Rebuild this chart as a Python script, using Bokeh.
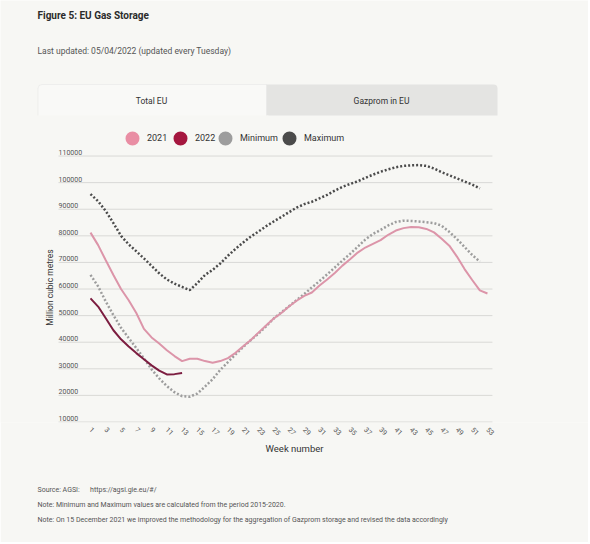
import math
import numpy as np
from bokeh.plotting import figure
from bokeh.models import (Range1d, FixedTicker, Label, BoxAnnotation,
                          Legend, LegendItem, Title)
from bokeh.core.properties import value
from bokeh.embed import file_html
from bokeh.resources import INLINE

BG = "#f7f7f4"
FONT = "Roboto"
W = 588          # canvas width
FH = 422         # frame height (header + chart area)

# ---------------- data ----------------
weeks_2021 = list(range(1, 54))
weeks_2022 = list(range(1, 14))
weeks_minmax = list(range(1, 53))

storage_2021 = [81200, 76500, 70800, 65300, 60000, 55800, 51000, 45000, 41800, 39500,
                37000, 34800, 32900, 33800, 33800, 32900, 32300, 32900, 34000, 36000,
                38500, 40800, 43600, 46300, 48900, 51000, 53400, 55600, 57400, 58700,
                61300, 63600, 66000, 68800, 71200, 73700, 75600, 77000, 78400, 80400,
                82000, 82900, 83300, 83200, 82600, 81300, 78900, 76300, 72200, 67500,
                63400, 59500, 58300]
storage_2022 = [56500, 53400, 49000, 44500, 41100, 38400, 35900, 33600, 31300, 29300,
                27900, 28000, 28400]
minimum = [65300, 61000, 55300, 50200, 45400, 41600, 37800, 33900, 29800, 26400,
           23500, 21200, 19700, 19500, 20700, 23300, 26100, 29600, 32500, 35400,
           38200, 40800, 43200, 46000, 48900, 51200, 53500, 55800, 58100, 60600,
           63000, 65500, 68100, 70700, 73200, 75900, 78600, 80700, 82200, 83900,
           85200, 85700, 85600, 85400, 85100, 84800, 83800, 81500, 78800, 75800,
           72800, 70300]
maximum = [95700, 93000, 89300, 84800, 80000, 76800, 74200, 71500, 68700, 65900,
           63600, 62000, 60800, 59600, 62200, 65300, 67200, 69600, 72500, 75100,
           77500, 79700, 81600, 83600, 85400, 87100, 88900, 90600, 91900, 92800,
           94100, 95400, 97000, 98400, 99500, 100500, 101800, 103000, 104100, 105000,
           105800, 106300, 106500, 106600, 106300, 105300, 103900, 102800, 101600, 100400,
           99300, 97800]

series_names = ["2021", "2022", "Minimum", "Maximum"]
legend_colors = ["#e98ea4", "#a5173f", "#9d9d9d", "#4b4b4b"]

y_ticks = [10000, 20000, 30000, 40000, 50000, 60000, 70000, 80000, 90000, 100000, 110000]
y_tick_labels = ["10000", "20000", "30000", "40000", "50000", "60000", "70000",
                 "80000", "90000", "100000", "110000"]
x_ticks = list(range(1, 54, 2))

# chart area extent in week units (grid lines run across it)
GRID_X0, GRID_X1 = -3.19, 53.65
PX_PER_WEEK = 7.634
UNITS_PER_PX = 376.0

# ---------------- figure ----------------
x_lo = 1 - 90 / PX_PER_WEEK
x_hi = x_lo + W / PX_PER_WEEK
y_lo = 10000 - 0.5 * UNITS_PER_PX
y_hi = y_lo + FH * UNITS_PER_PX

p = figure(frame_width=W, frame_height=FH,
           min_border_left=0, min_border_right=0, min_border_top=0, min_border_bottom=120,
           x_range=Range1d(x_lo, x_hi), y_range=Range1d(y_lo, y_hi),
           y_axis_location=None,
           output_backend="svg", toolbar_location=None,
           background_fill_color=BG, border_fill_color=BG, outline_line_color=None)
p.grid.visible = False

# horizontal grid lines across the chart area
p.segment(x0=[GRID_X0] * len(y_ticks), x1=[GRID_X1] * len(y_ticks), y0=y_ticks, y1=y_ticks,
          line_color="#d9d9d6", line_width=1)

# y tick labels sit inside the chart, above their grid lines
p.text(x=[GRID_X0] * len(y_ticks), y=y_ticks, text=y_tick_labels,
       text_font=value(FONT), text_font_size="7px", text_color="#555555",
       text_align="left", text_baseline="bottom", y_offset=-1)

# x axis
xa = p.xaxis[0]
xa.ticker = FixedTicker(ticks=x_ticks)
xa.axis_line_color = None
xa.major_tick_line_color = None
xa.minor_tick_line_color = None
xa.major_label_orientation = -math.pi / 4
xa.major_label_text_font = FONT
xa.major_label_text_font_size = "7px"
xa.major_label_text_color = "#555555"
xa.major_label_standoff = 0

# series
p.line(weeks_minmax, maximum, line_color="#4b4b4b", line_width=2.5, line_dash="2 2")
p.line(weeks_minmax, minimum, line_color="#9d9d9d", line_width=2.5, line_dash="2 2")
p.line(weeks_2021, storage_2021, line_color="#dc95a9", line_width=2)
p.line(weeks_2022, storage_2022, line_color="#7c1d40", line_width=2)


def lab(x, y, text, size, color="#444444", style="normal", align="left", angle=0.0):
    p.add_layout(Label(x=x, y=y, x_units="screen", y_units="screen", text=text,
                       text_font=FONT, text_font_size=size, text_color=color,
                       text_font_style=style, text_align=align,
                       text_baseline="middle", angle=angle))


def box(left, right, bottom, top, **kw):
    p.add_layout(BoxAnnotation(left=left, right=right, bottom=bottom, top=top,
                               left_units="screen", right_units="screen",
                               bottom_units="screen", top_units="screen",
                               fill_alpha=1, **kw))


# header (screen units measured from the frame's bottom-left corner)
lab(37, FH - 15, "Figure 5: EU Gas Storage", "10px", "#2b2b2b", "bold")
lab(37, FH - 50, "Last updated: 05/04/2022 (updated every Tuesday)", "8.5px", "#555555")
box(266, 497, FH - 115, FH - 84, fill_color="#e4e4e2", line_color=None,
    border_radius=dict(top_left=0, top_right=4, bottom_right=0, bottom_left=0))
box(37.5, 266, FH - 116, FH - 84, fill_color="#f9f9f7", line_color="#d8d8d6",
    line_width=1, border_radius=dict(top_left=4, top_right=0, bottom_right=0, bottom_left=0))
box(36, 268, FH - 122, FH - 115, fill_color=BG, line_color=None)
lab(151, FH - 100, "Total EU", "8.5px", "#333333", align="center")
lab(381, FH - 100, "Gazprom in EU", "8.5px", "#333333", align="center")
lab(49, FH - 287, "Million cubic metres", "8.5px", "#333333", align="center", angle=math.pi / 2)

# legend: one entry per Legend so each swatch can sit where the reference has it
legend_centers = [132, 180, 225, 289]
for name, col, cx in zip(series_names, legend_colors, legend_centers):
    r = p.scatter(x=np.array([np.nan]), y=np.array([np.nan]), marker="circle", size=12,
                  fill_color=col, line_color=col, line_width=2)
    lg = Legend(items=[LegendItem(label=name, renderers=[r])],
                location=(cx - 15, FH - 153),
                glyph_width=30, glyph_height=30, label_standoff=0, spacing=0,
                padding=0, margin=0, background_fill_alpha=0, border_line_color=None,
                label_text_font=FONT, label_text_font_size="9px",
                label_text_color="#333333")
    p.add_layout(lg, "center")


# below: axis title and footnotes
def below(text, size, standoff, align="left", offset=37, color="#555555"):
    p.add_layout(Title(text=text, align=align, offset=offset, standoff=standoff,
                       text_font=FONT, text_font_size=size, text_font_style="normal",
                       text_color=color), "below")


below("Week number", "9.5px", 0, align="center", offset=-16, color="#333333")
below("\u00a0", "7px", 18)   # vertical spacer
below("Source: AGSI:\u00a0\u00a0\u00a0\u00a0\u00a0\u00a0https://agsi.gie.eu/#/", "7px", 4.5)
below("Note: Minimum and Maximum values are calculated from the period 2015-2020.", "7px", 4.5)
below("Note: On 15 December 2021 we improved the methodology for the aggregation of Gazprom storage and revised the data accordingly", "7px", 4.5)

open("out.html", "w").write(file_html(p, INLINE))
